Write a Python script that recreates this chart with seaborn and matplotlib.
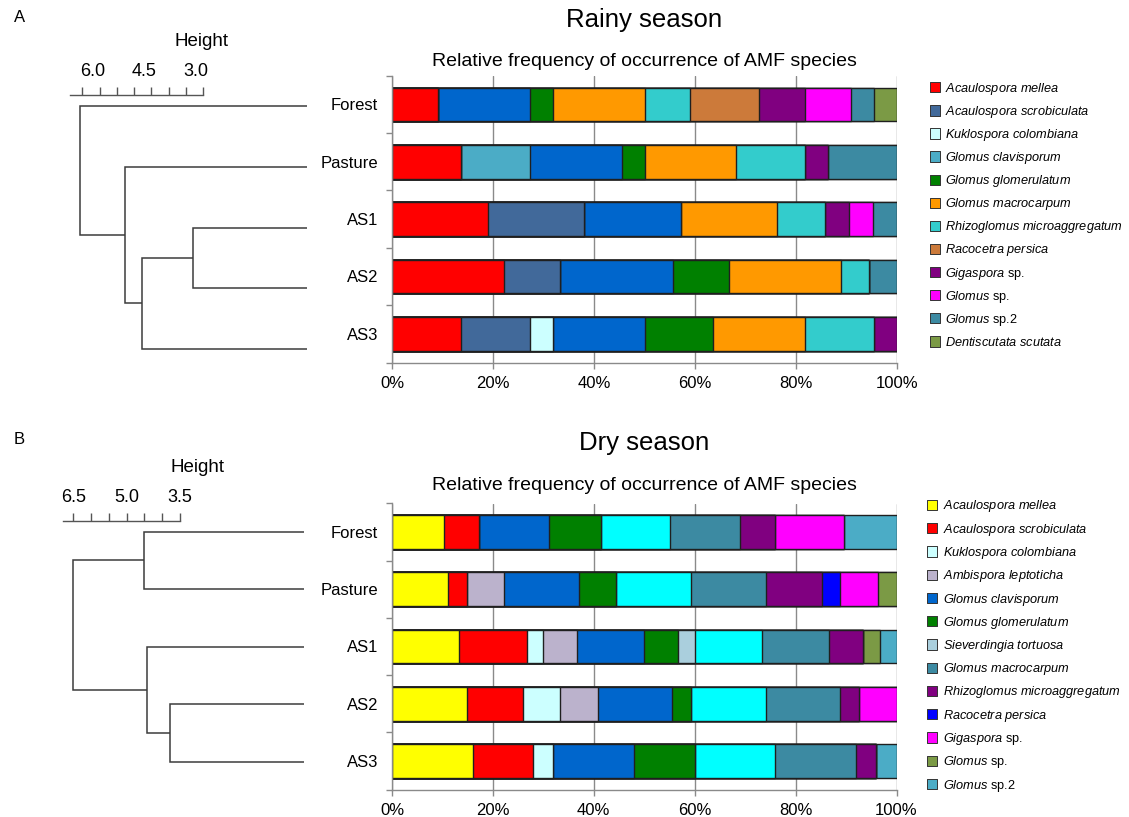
import numpy as np
import pandas as pd
import matplotlib
matplotlib.use("Agg")
import matplotlib.pyplot as plt
import matplotlib.transforms as mtransforms
from matplotlib.ticker import PercentFormatter
import seaborn as sns

sns.set_theme(style="white")
plt.rcParams["font.family"] = ["Liberation Sans", "DejaVu Sans"]
plt.rcParams["mathtext.fontset"] = "custom"
plt.rcParams["mathtext.rm"] = "Liberation Sans"
plt.rcParams["mathtext.it"] = "Liberation Sans:italic"
plt.rcParams["text.color"] = "black"
plt.rcParams["axes.labelcolor"] = "black"
plt.rcParams["xtick.labelcolor"] = "black"
plt.rcParams["ytick.labelcolor"] = "black"

W, H = 1129, 817

sites = ["Forest", "Pasture", "AS1", "AS2", "AS3"]

# ---------------- Rainy season ----------------
rainy_species = [
    "Acaulospora mellea", "Acaulospora scrobiculata", "Kuklospora colombiana",
    "Glomus clavisporum", "_unlisted", "Glomus glomerulatum", "Glomus macrocarpum",
    "Rhizoglomus microaggregatum", "Racocetra persica", "Gigaspora sp.",
    "Glomus sp.", "Glomus sp.2", "Dentiscutata scutata",
]
rainy_colors = [
    "#FF0000", "#41699A", "#CCFFFF", "#4BACC6", "#0066CC", "#008000", "#FF9900",
    "#33CCCC", "#CC7A3A", "#800080", "#FF00FF", "#3C8AA2", "#7B9A45",
]
# occurrence counts per species (same order as rainy_species)
rainy_forest = [2, 0, 0, 0, 4, 1, 4, 2, 3, 2, 2, 1, 1]
rainy_pasture = [3, 0, 0, 3, 4, 1, 4, 3, 0, 1, 0, 3, 0]
rainy_as1 = [4, 4, 0, 0, 4, 0, 4, 2, 0, 1, 1, 1, 0]
rainy_as2 = [4, 2, 0, 0, 4, 2, 4, 1, 0, 0, 0, 1, 0]
rainy_as3 = [3, 3, 1, 0, 4, 3, 4, 3, 0, 1, 0, 0, 0]
# cluster merges: (member, member, height); ints refer to earlier merges
rainy_merges = [("AS1", "AS2", 3.30), (0, "AS3", 4.77), ("Pasture", 1, 5.27), ("Forest", 2, 6.57)]
rainy_height_major = [6.0, 4.5, 3.0]
rainy_height_minor = [6.5, 5.5, 5.0, 4.0, 3.5]

# ---------------- Dry season ----------------
dry_species = [
    "Acaulospora mellea", "Acaulospora scrobiculata", "Kuklospora colombiana",
    "Ambispora leptoticha", "Glomus clavisporum", "Glomus glomerulatum",
    "Sieverdingia tortuosa", "_unlisted", "Glomus macrocarpum",
    "Rhizoglomus microaggregatum", "Racocetra persica", "Gigaspora sp.",
    "Glomus sp.", "Glomus sp.2",
]
dry_colors = [
    "#FFFF00", "#FF0000", "#CCFFFF", "#BBB2CC", "#0066CC", "#008000", "#AACFDD",
    "#00FFFF", "#3C8AA2", "#800080", "#0000FF", "#FF00FF", "#7B9A45", "#4BACC6",
]
dry_forest = [3, 2, 0, 0, 4, 3, 0, 4, 4, 2, 0, 4, 0, 3]
dry_pasture = [3, 1, 0, 2, 4, 2, 0, 4, 4, 3, 1, 2, 1, 0]
dry_as1 = [4, 4, 1, 2, 4, 2, 1, 4, 4, 2, 0, 0, 1, 1]
dry_as2 = [4, 3, 2, 2, 4, 1, 0, 4, 4, 1, 0, 2, 0, 0]
dry_as3 = [4, 3, 1, 0, 4, 3, 0, 4, 4, 1, 0, 0, 0, 1]
dry_merges = [("AS2", "AS3", 3.78), ("AS1", 0, 4.42), ("Forest", "Pasture", 4.50), (2, 1, 6.50)]
dry_height_major = [6.5, 5.0, 3.5]
dry_height_minor = [6.0, 5.5, 4.5, 4.0]

EDGE = "#1f1f1f"
AXIS_GREY = "#8a8a8a"
TREE = "#3c3c3c"

fig = plt.figure(figsize=(W / 100, H / 100), dpi=100)


def px_axes(x0, y0, x1, y1):
    return fig.add_axes([x0 / W, 1 - y1 / H, (x1 - x0) / W, (y1 - y0) / H])


def fmt(name):
    words = []
    for w in name.split(" "):
        words.append(w if w.startswith("sp.") else r"$\mathit{" + w + "}$")
    return " ".join(words)


def stacked_bars(ax, species, colors, rows):
    df = pd.DataFrame(rows, index=sites, columns=species)
    pct = df.div(df.sum(axis=1), axis=0) * 100
    cum = pct.cumsum(axis=1)
    # draw cumulative bars from the longest to the shortest so every segment shows
    for name, color in reversed(list(zip(species, colors))):
        sns.barplot(x=cum[name].values, y=sites, order=sites, orient="h",
                    color=color, saturation=1, width=0.59, edgecolor=EDGE,
                    linewidth=1.0, errorbar=None, ax=ax)
    ax.set_xlim(0, 100)
    ax.set_ylim(len(sites) - 0.5, -0.5)
    ax.set_xlabel("")
    ax.set_ylabel("")
    ax.set_xticks(range(0, 101, 20))
    ax.xaxis.set_major_formatter(PercentFormatter(decimals=0))
    ax.set_yticks(range(len(sites)))
    ax.set_yticklabels(sites)
    ax.set_yticks(np.arange(-0.5, len(sites), 1.0), minor=True)
    ax.grid(axis="x", color=AXIS_GREY, lw=1.0)
    ax.grid(axis="y", visible=False)
    ax.set_axisbelow(True)
    for s in ("top", "right"):
        ax.spines[s].set_visible(False)
    for s in ("left", "bottom"):
        ax.spines[s].set_color(AXIS_GREY)
        ax.spines[s].set_linewidth(1.0)
    ax.tick_params(axis="x", which="major", length=4, color=AXIS_GREY, width=1,
                   labelsize=12, pad=6, labelcolor="black", bottom=True)
    ax.tick_params(axis="y", which="major", length=0, labelsize=12, pad=10, labelcolor="black")
    ax.tick_params(axis="y", which="minor", length=4, color=AXIS_GREY, width=1, left=True)


def dendrogram(ax, merges, axis_y, bounds, major, minor, label_shift=0):
    pos = {s: (i, 0.0) for i, s in enumerate(sites)}
    nodes = []
    for a, b, h in merges:
        ya, ha = pos[a] if isinstance(a, str) else nodes[a]
        yb, hb = pos[b] if isinstance(b, str) else nodes[b]
        ax.plot([ha, h, h, hb], [ya, ya, yb, yb], color=TREE, lw=1.1,
                solid_joinstyle="miter", solid_capstyle="butt")
        nodes.append(((ya + yb) / 2, h))
    for s in ("left", "right", "bottom"):
        ax.spines[s].set_visible(False)
    sp = ax.spines["top"]
    sp.set_position(("data", axis_y))
    sp.set_bounds(*bounds)
    sp.set_color("#555555")
    sp.set_linewidth(1.0)
    ax.set_facecolor("none")
    ax.xaxis.set_ticks_position("top")
    ax.set_xticks(major)
    ax.set_xticklabels([f"{v:.1f}" for v in major])
    ax.set_xticks(minor, minor=True)
    ax.set_yticks([])
    ax.tick_params(axis="x", which="both", direction="out", length=5.5, width=1.0,
                   color="#555555", labelsize=13, pad=5, labelcolor="black")
    if label_shift:
        off = mtransforms.ScaledTranslation(label_shift / 100, 0, fig.dpi_scale_trans)
        for t in ax.xaxis.get_major_ticks():
            t.label2.set_transform(t.label2.get_transform() + off)


def legend_panel(y0, y1, species, colors, first_y, step, sq_x, txt_x):
    ax = px_axes(918, y0, W, y1)
    ax.set_xlim(918, W)
    ax.set_ylim(y1, y0)
    ax.axis("off")
    shown = [(n, c) for n, c in zip(species, colors) if not n.startswith("_")]
    ys = first_y + step * np.arange(len(shown))
    ax.scatter(np.full(len(shown), sq_x), ys, marker="s", s=55,
               c=[c for _, c in shown], edgecolors="#333333", linewidths=0.7)
    for (n, _), y in zip(shown, ys):
        ax.text(txt_x, y + 4.5, fmt(n), fontsize=9.2, va="baseline", ha="left",
                color="black")


# ---------------- Panel A ----------------
ax_a = px_axes(392, 75.8, 897, 362.5)
stacked_bars(ax_a, rainy_species, rainy_colors,
             [rainy_forest, rainy_pasture, rainy_as1, rainy_as2, rainy_as3])

sa = 34.57
den_a = px_axes(40, 25, 320, 380)
den_a.set_xlim(6.5 + (82.3 - 40) / sa, 6.5 - (320 - 82.3) / sa)
den_a.set_ylim((380 - 106) / 60.75, (25 - 106) / 60.75)
dendrogram(den_a, rainy_merges, (95 - 106) / 60.75, (6.5 + (82.3 - 70) / sa, 3.0),
           rainy_height_major, rainy_height_minor, label_shift=-7)

legend_panel(70, 360, rainy_species, rainy_colors, 87.3, 23.1, 935, 945)

fig.text(14 / W, 1 - 18 / H, "A", fontsize=12, ha="left", va="center")
fig.text(201 / W, 1 - 41 / H, "Height", fontsize=13.5, ha="center", va="center")
fig.text(644.5 / W, 1 - 20 / H, "Rainy season", fontsize=18.5, ha="center", va="center")
fig.text(644.5 / W, 1 - 61 / H, "Relative frequency of occurrence of AMF species",
         fontsize=14, ha="center", va="center")

# ---------------- Panel B ----------------
ax_b = px_axes(392, 503.5, 896.5, 789.5)
stacked_bars(ax_b, dry_species, dry_colors,
             [dry_forest, dry_pasture, dry_as1, dry_as2, dry_as3])

sb = 35.49
den_b = px_axes(40, 450, 320, 800)
den_b.set_xlim(6.5 + (73.3 - 40) / sb, 6.5 - (320 - 73.3) / sb)
den_b.set_ylim((800 - 531.7) / 57.5, (450 - 531.7) / 57.5)
dendrogram(den_b, dry_merges, (521 - 531.7) / 57.5, (6.5 + (73.3 - 63) / sb, 3.5),
           dry_height_major, dry_height_minor)

legend_panel(490, 800, dry_species, dry_colors, 505, 23.25, 932, 943)

fig.text(14 / W, 1 - 440 / H, "B", fontsize=12, ha="left", va="center")
fig.text(197.7 / W, 1 - 467.7 / H, "Height", fontsize=13.5, ha="center", va="center")
fig.text(644.5 / W, 1 - 443 / H, "Dry season", fontsize=18.5, ha="center", va="center")
fig.text(644.5 / W, 1 - 485 / H, "Relative frequency of occurrence of AMF species",
         fontsize=14, ha="center", va="center")

fig.savefig("out.png", dpi=100)
